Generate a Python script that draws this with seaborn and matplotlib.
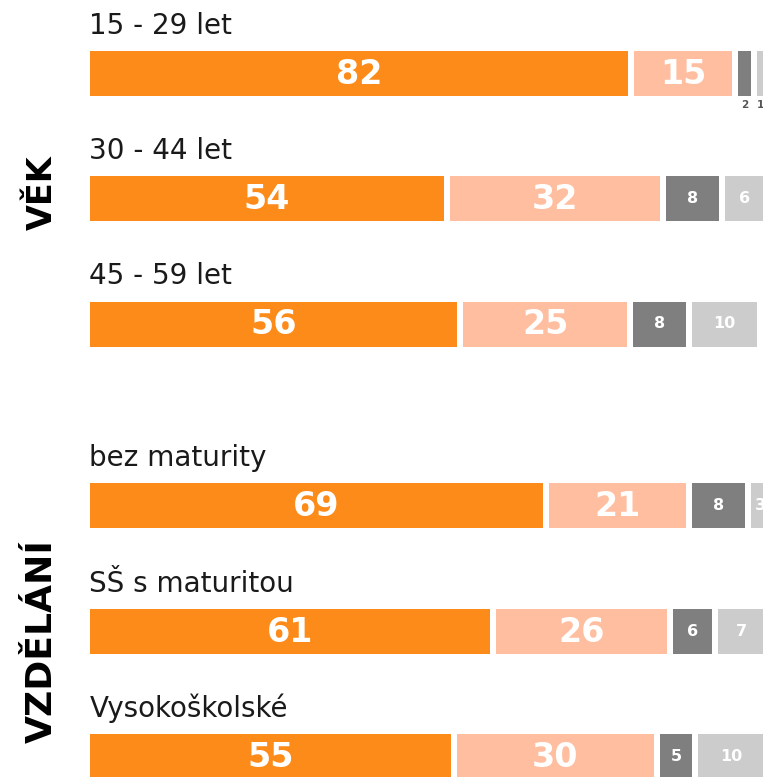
import matplotlib
matplotlib.use('Agg')
import matplotlib.pyplot as plt
import numpy as np
import pandas as pd
import seaborn as sns

# data
rows = ['15 - 29 let', '30 - 44 let', '45 - 59 let',
        'bez maturity', 'SŠ s maturitou', 'Vysokoškolské']
groups = ['VĚK', 'VĚK', 'VĚK', 'VZDĚLÁNÍ', 'VZDĚLÁNÍ', 'VZDĚLÁNÍ']
s1 = [82, 54, 56, 69, 61, 55]
s2 = [15, 32, 25, 21, 26, 30]
s3 = [2, 8, 8, 8, 6, 5]
s4 = [1, 6, 10, 3, 7, 10]
series = [s1, s2, s3, s4]
colors = ['#FD8B19', '#FFBE9F', '#7F7F7F', '#CCCCCC']

sns.set_theme(style='white')
plt.rcParams['font.family'] = ['DejaVu Sans']

fig = plt.figure(figsize=(7.63, 7.77), dpi=100)
ax = fig.add_axes([0, 0, 1, 1])

# layout (y in pixel-like units, top = 0)
step = 125.5
group_extra = 56
ypos = np.array([73 + i * step + (group_extra if g == 'VZDĚLÁNÍ' else 0)
                 for i, g in enumerate(groups)])
bar_h = 45
gap = 0.915

df = pd.DataFrame({'row': rows, 'pos': ypos})
lefts = np.zeros(len(rows))
for k, (vals, col) in enumerate(zip(series, colors)):
    df['value'] = vals
    sns.barplot(data=df, x='value', y='pos', orient='h', native_scale=True,
                color=col, saturation=1, errorbar=None, width=bar_h / step,
                left=lefts, linewidth=0, ax=ax)
    for rect, v in zip(ax.containers[-1], vals):
        cx = rect.get_x() + rect.get_width() / 2
        cy = rect.get_y() + rect.get_height() / 2
        if v >= 15:
            ax.text(cx, cy + 1, str(v), color='white', fontsize=24,
                    fontweight='bold', ha='center', va='center')
        elif v >= 3:
            ax.text(cx, cy, str(v), color='white', fontsize=11.5,
                    fontweight='bold', ha='center', va='center')
        else:
            ax.text(cx, max(rect.get_y(), rect.get_y() + rect.get_height()) + 9,
                    str(v), color='#555555', fontsize=7.5,
                    fontweight='bold', ha='center', va='center')
    lefts = lefts + np.array(vals) + gap

# row labels
for r, y in zip(rows, ypos):
    ax.text(-0.1, y - bar_h / 2 - 17, r, fontsize=20, color='#1a1a1a',
            ha='left', va='baseline')

# group labels
ax.text(-7.3, 193, 'VĚK', rotation=90, fontsize=24, fontweight='bold',
        color='black', ha='center', va='center')
ax.text(-7.3, 641, 'VZDĚLÁNÍ', rotation=90, fontsize=26, fontweight='bold',
        color='black', ha='center', va='center')

ax.set_xlim(-90 / 6.56, 673 / 6.56)
ax.set_ylim(777, 0)
ax.axis('off')

fig.savefig('out.png', dpi=100)
